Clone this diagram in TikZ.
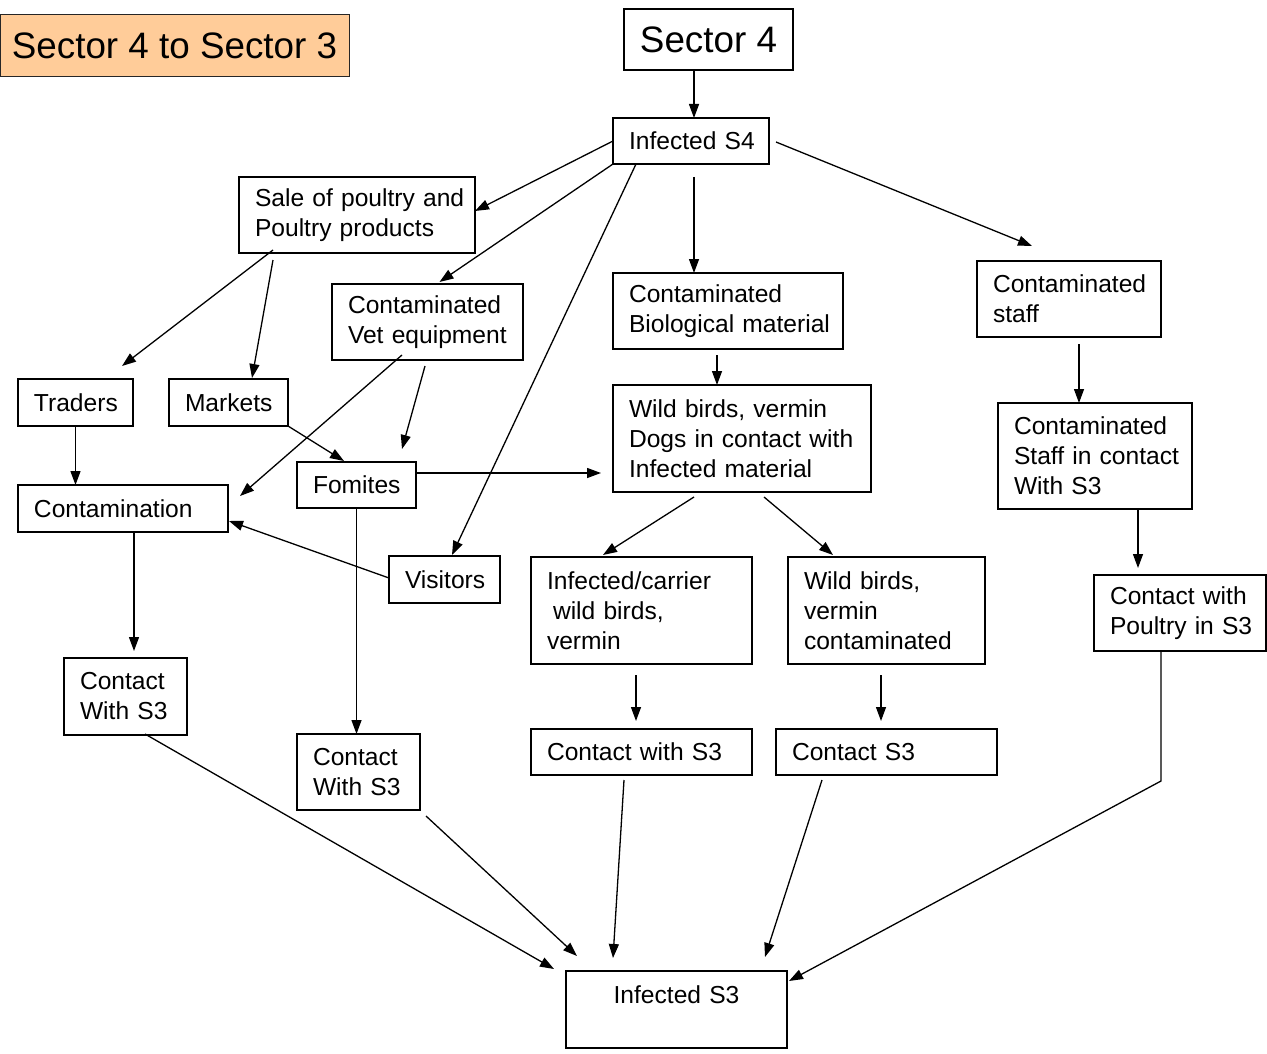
\documentclass[tikz,border=0pt]{standalone}
\usepackage{fontspec}
\setmainfont{Liberation Sans}
\usetikzlibrary{arrows.meta,calc}
\definecolor{peach}{RGB}{255,204,153}
\begin{document}
\begin{tikzpicture}[x=1pt,y=-1pt,
  bx/.style={draw, line width=1.3pt, anchor=north west, inner xsep=16pt, inner ysep=0pt,
    align=left, font=\fontsize{24.6}{30}\selectfont, outer sep=0pt},
  big/.style={draw, line width=1.3pt, anchor=north west, inner sep=0pt, align=center,
    font=\fontsize{36.8}{44}\selectfont, outer sep=0pt},
  arr/.style={line width=1.3pt, -{Triangle[length=14pt,width=10pt]}}]
\useasboundingbox (0,0) rectangle (1267,1054);

% title and top
\node[big, fill=peach, line width=1pt, draw=black!85, minimum width=349pt, minimum height=62pt] (title) at (0,15) {\mbox{Sector 4 to Sector 3}};
\node[big, minimum width=169pt, minimum height=61pt] (s4) at (624,9) {\mbox{Sector 4}};

\node[bx, text width=124pt, minimum height=46pt] (i4) at (613,118) {\mbox{Infected S4}};
\node[bx, text width=204pt, minimum height=76pt] (sale) at (239,177) {\mbox{Sale of poultry and}\\\mbox{Poultry products}};
\node[bx, text width=159pt, minimum height=76pt] (vet) at (332,284) {\mbox{Contaminated}\\\mbox{Vet equipment}};
\node[bx, text width=198pt, minimum height=76pt] (bio) at (613,273) {\mbox{Contaminated}\\\mbox{Biological material}};
\node[bx, text width=152pt, minimum height=76pt] (staff) at (977,261) {\mbox{Contaminated}\\\mbox{staff}};
\node[bx, text width=83pt, minimum height=47pt] (traders) at (18,379) {\mbox{Traders}};
\node[bx, text width=87pt, minimum height=47pt] (markets) at (169,379) {\mbox{Markets}};
\node[bx, text width=226pt, minimum height=107pt] (wd) at (613,385) {\mbox{Wild birds, vermin}\\\mbox{Dogs in contact with}\\\mbox{Infected material}};
\node[bx, text width=162pt, minimum height=106pt] (sc) at (998,403) {\mbox{Contaminated}\\\mbox{Staff in contact}\\\mbox{With S3}};
\node[bx, text width=87pt, minimum height=46pt] (fom) at (297,462) {\mbox{Fomites}};
\node[bx, text width=178pt, minimum height=47pt] (cont) at (18,485) {\mbox{Contamination}};
\node[bx, text width=79pt, minimum height=47pt] (vis) at (389,556) {\mbox{Visitors}};
\node[bx, text width=189pt, minimum height=107pt] (ic) at (531,557) {\mbox{Infected/carrier}\\\mbox{\hspace*{6pt}wild birds,}\\\mbox{vermin}};
\node[bx, text width=165pt, minimum height=107pt] (wbc) at (788,557) {\mbox{Wild birds,}\\\mbox{vermin}\\\mbox{contaminated}};
\node[bx, text width=140pt, minimum height=76pt] (cp) at (1094,575) {\mbox{Contact with}\\\mbox{Poultry in S3}};
\node[bx, text width=91pt, minimum height=77pt] (cl) at (64,658) {\mbox{Contact}\\\mbox{With S3}};
\node[bx, text width=91pt, minimum height=76pt] (cm) at (297,734) {\mbox{Contact}\\\mbox{With S3}};
\node[bx, text width=189pt, minimum height=46pt] (cws) at (531,729) {\mbox{Contact with S3}};
\node[bx, text width=189pt, minimum height=46pt] (cs3) at (776,729) {\mbox{Contact S3}};
\node[bx, align=center, text width=189pt, minimum height=77pt, text depth=30pt] (i3) at (566,971) {\mbox{Infected S3}};

% connectors
\draw[arr] ([xshift=3pt]i4.north |- s4.south) -- ([xshift=3pt]i4.north);
\draw[arr] (i4.west) -- ($(sale.east)+(0,-4)$);
\draw[arr] (i4.south west) -- ($(vet.north)+(12,-2)$);
\draw[arr] ($(i4.south west)+(23,0)$) -- ($(vis.north)+(7.5,-1)$);
\draw[arr] ($(i4.south)+(3,13)$) coordinate (b1) -- (b1 |- bio.north);
\draw[arr] ($(i4.east)+(7,1)$) -- ($(staff.north)+(-37,-15)$);
\draw[arr] ($(sale.south west)+(34,-3)$) -- ($(traders.north)+(46.5,-13)$);
\draw[arr] ($(sale.south west)+(34,7)$) -- ($(markets.north)+(23.5,-1)$);
\draw[arr] ($(vet.south west)+(70,-5)$) -- ($(cont.east)+(12,-12.5)$);
\draw[arr] ($(vet.south)+(-2.5,6)$) -- ($(fom.north)+(45.5,-13)$);
\draw[arr] (markets.south east) -- ($(fom.north)+(-12.5,-1)$);
\draw[arr, shorten >=12pt] ($(fom.east)+(0,-12)$) coordinate (f1) -- (f1 -| wd.west);
\draw[arr] ($(bio.south west)+(104,6)$) -- ($(wd.north west)+(104,0)$);
\draw[arr] ($(staff.south west)+(102,7)$) -- ($(sc.north west)+(81,0)$);
\draw[arr] (traders.south) -- (traders.south |- cont.north);
\draw[arr] ($(vis.west)+(0,-1.5)$) -- ($(cont.south east)+(1,-11)$);
\draw[arr] ($(cont.south west)+(116,0)$) -- ($(cl.north west)+(70,-7)$);
\draw[arr] (fom.south) -- (fom.south |- cm.north);
\draw[arr] ($(wd.south west)+(81,5)$) -- ($(ic.north)+(-38.5,-2)$);
\draw[arr] ($(wd.south west)+(151,5)$) -- ($(wbc.north west)+(45,-2)$);
\draw[arr] ($(sc.south west)+(140,1)$) -- ($(cp.north west)+(44,-7)$);
\draw[arr] ($(ic.south west)+(105,11)$) -- ($(cws.north west)+(105,-8)$);
\draw[arr] ($(wbc.south west)+(93,11)$) -- ($(cs3.north west)+(105,-8)$);
\draw[arr] ($(cl.south west)+(81,-1)$) -- ($(i3.north west)+(-12,-2)$);
\draw[arr] ($(cm.south east)+(6,6)$) -- ($(i3.north west)+(11,-15)$);
\draw[arr] ($(cws.south west)+(93,5)$) -- ($(i3.north west)+(47,-13)$);
\draw[arr] ($(cs3.south west)+(46,5)$) -- ($(i3.north west)+(199,-14)$);
\draw[arr] ($(cp.south west)+(67,0)$) -- ++(0,130) -- ($(i3.north east)+(2,10)$);
\end{tikzpicture}
\end{document}
